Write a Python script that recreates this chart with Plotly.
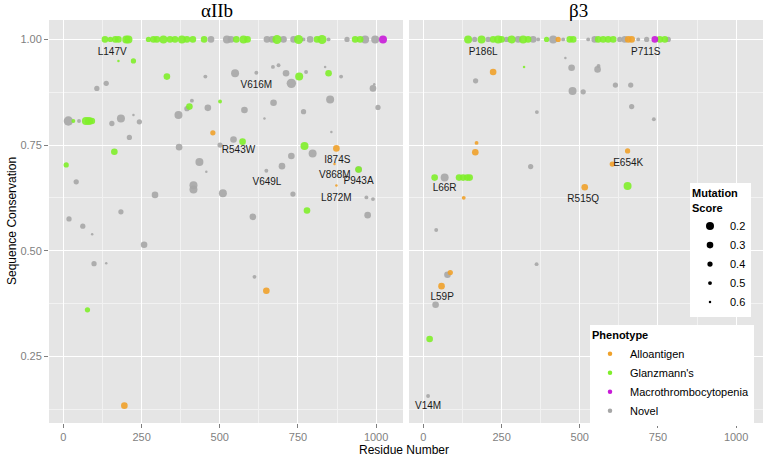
import plotly.graph_objects as go

# ---------------- data ----------------
# alpha IIb panel: residue, conservation, mutation score, phenotype (A/G/M/N)
a_res = [133,150,166,176,201,208,272,288,299,320,341,357,379,395,414,450,472,523,536,553,
         576,589,651,667,683,704,736,752,768,789,811,827,848,907,933,949,965,997,1022,
         176,224,331,107,137,16,32,50,72,82,91,155,184,224,243,211,163,9,41,18,62,92,98,137,
         258,77,195,611,649,184,370,368,395,403,411,435,457,416,416,293,454,462,501,478,501,
         544,573,510,549,579,617,606,643,649,672,670,688,712,729,754,776,699,729,734,768,771,
         797,779,837,848,888,853,857,873,867,873,944,944,969,990,973,990,994,1006]
a_con = [1.0]*39 + [
         0.949,0.949,0.912,0.884,0.896,0.807,0.807,0.807,0.807,0.807,0.807,0.801,0.813,0.821,
         0.805,0.768,0.734,0.703,0.663,0.575,0.558,0.539,0.469,0.470,0.514,0.360,0.133,0.438,
         0.405,0.592,0.745,0.821,0.836,0.841,0.855,0.710,0.687,0.655,0.645,0.632,0.912,0.838,
         0.853,0.779,0.750,0.763,0.758,0.636,0.920,0.833,0.921,0.580,0.813,0.689,0.850,0.935,
         0.939,0.920,0.896,0.912,0.923,0.700,0.724,0.634,0.829,0.748,0.730,0.595,0.935,0.920,
         0.912,0.858,0.781,0.742,0.705,0.654,0.692,0.692,0.626,0.622,0.584,0.884,0.894,0.839]
a_score = [0.3,0.4,0.3,0.3,0.2,0.2,0.4,0.3,0.3,0.2,0.3,0.3,0.2,0.3,0.3,0.3,0.3,0.2,0.3,0.3,
           0.2,0.3,0.3,0.3,0.12,0.3,0.3,0.12,0.5,0.3,0.3,0.12,0.5,0.4,0.3,0.3,0.2,0.2,0.2,
           0.6,0.4,0.3,0.4,0.4,0.1,0.5,0.5,0.2,0.2,0.3,0.4,0.2,0.6,0.4,0.4,0.3,0.4,0.4,0.4,0.4,
           0.6,0.4,0.6,0.3,0.4,0.3,0.5,0.3,0.4,0.3,0.2,0.4,0.3,0.5,0.2,0.6,0.2,0.2,0.3,0.5,0.3,
           0.5,0.4,0.4,0.3,0.3,0.2,0.2,0.3,0.5,0.3,0.6,0.5,0.3,0.5,0.5,0.3,0.1,0.2,0.5,0.3,0.3,
           0.4,0.4,0.2,0.2,0.3,0.6,0.3,0.5,0.2,0.6,0.3,0.6,0.6,0.3,0.3,0.5,0.5,0.3,0.3,0.6,0.4]
a_phen = list("GGGGGGGGGGGGGGGGNNNGGGNNGNNGNNGGNNGGNNM") + list(
    "GGGNNNGNGGGNNNNNGGNNNNNNNGAN" "ANNNNGNNNNNNNNGAN" "NGNNNNNNNNNNNNGNNNNNGNGNGNNNAAANGNNNNNN")

# beta 3 panel
b_res = [143,164,186,207,223,239,250,266,282,303,319,335,351,367,394,415,431,447,468,479,
         527,548,559,575,591,607,628,644,655,666,687,714,740,756,772,783,
         322,223,167,454,474,557,560,477,511,614,663,666,363,737,170,166,653,604,343,
         36,68,114,127,140,148,129,516,653,41,362,86,77,58,39,20,15]
b_con = [1.0]*36 + [
         0.935,0.923,0.902,0.956,0.933,0.929,0.937,0.878,0.876,0.892,0.892,0.841,0.828,0.811,
         0.755,0.733,0.736,0.705,0.699,0.673,0.673,0.673,0.673,0.673,0.673,0.625,0.650,0.653,
         0.549,0.468,0.448,0.443,0.416,0.372,0.291,0.156]
b_score = [0.2,0.4,0.2,0.4,0.3,0.2,0.3,0.4,0.2,0.3,0.2,0.3,0.3,0.5,0.4,0.2,0.4,0.5,0.3,0.3,
           0.5,0.3,0.3,0.3,0.3,0.3,0.4,0.3,0.3,0.3,0.5,0.4,0.3,0.3,0.3,0.4,
           0.6,0.3,0.4,0.6,0.3,0.3,0.5,0.2,0.4,0.4,0.4,0.4,0.5,0.5,0.5,0.3,0.4,0.4,0.4,
           0.3,0.2,0.3,0.3,0.3,0.3,0.5,0.3,0.2,0.5,0.5,0.4,0.3,0.3,0.3,0.3,0.5]
b_phen = list("GNGNGGGNGNGGNNGNANGGNNGGGGNNAANNMGGN") + list(
    "GANNNNNNNNNNNNAAAAN" "GNGGGGAAGNNANANGN")

# mutation labels
a_lab = ["L147V","V616M","R543W","V649L","I874S","V868M","P943A","L872M"]
a_lab_x = [156,617,560,651,876,868,944,873]
a_lab_y = [0.968,0.892,0.737,0.661,0.713,0.679,0.663,0.624]
b_lab = ["P186L","P711S","L66R","R515Q","E654K","L59P","V14M"]
b_lab_x = [191,711,68,511,655,60,15]
b_lab_y = [0.968,0.968,0.646,0.622,0.707,0.390,0.130]

phenotypes = ["Alloantigen","Glanzmann's","Macrothrombocytopenia","Novel"]
codes = ["A","G","M","N"]
legend_scores = [0.2,0.3,0.4,0.5,0.6]

# ---------------- styling ----------------
colors = {"A":"#EFA12A","G":"#7FEE2A","M":"#C81AD8","N":"#A6A6A6"}
FONT = "Liberation Sans, Arial, Helvetica, sans-serif"

def size_of(s):
    return 2.5 + (0.6 - s) * 13.75

fig = go.Figure()
draw_order = ["N","G","A","M"]
for xa, ya, res, con, sc, ph in [("x","y",a_res,a_con,a_score,a_phen),
                                  ("x2","y2",b_res,b_con,b_score,b_phen)]:
    for c in draw_order:
        idx = [i for i,p in enumerate(ph) if p == c]
        if not idx:
            continue
        fig.add_trace(go.Scatter(
            x=[res[i] for i in idx], y=[con[i] for i in idx], mode="markers",
            xaxis=xa, yaxis=ya, showlegend=False, hoverinfo="skip",
            marker=dict(color=colors[c], size=[size_of(sc[i]) for i in idx],
                        opacity=0.9, line=dict(width=0))))

fig.add_trace(go.Scatter(x=a_lab_x, y=a_lab_y, text=a_lab, mode="text", xaxis="x", yaxis="y",
                         showlegend=False, hoverinfo="skip",
                         textfont=dict(family=FONT, size=10, color="#1a1a1a")))
fig.add_trace(go.Scatter(x=b_lab_x, y=b_lab_y, text=b_lab, mode="text", xaxis="x2", yaxis="y2",
                         showlegend=False, hoverinfo="skip",
                         textfont=dict(family=FONT, size=10, color="#1a1a1a")))

# size legend
for s in legend_scores:
    fig.add_trace(go.Scatter(x=[None], y=[None], mode="markers", name=f"{s:.1f}",
                             legend="legend2", xaxis="x2", yaxis="y2",
                             marker=dict(color="black", size=size_of(s))))
# phenotype legend
for name, c in zip(phenotypes, codes):
    fig.add_trace(go.Scatter(x=[None], y=[None], mode="markers", name=name,
                             legend="legend", xaxis="x2", yaxis="y2",
                             marker=dict(color=colors[c], size=4.5)))

W, H = 765, 460
L1, R1, L2, R2 = 49, 403, 409, 763
TOP, BOT = 20, 423
xr = [-46, 1086]
yr = [0.092, 1.046]

def xaxis(l, r, show):
    return dict(domain=[l/W, r/W], range=xr, tick0=0, dtick=250, showgrid=True,
                gridcolor="white", gridwidth=1.3, zeroline=False, showline=False,
                ticks="outside", ticklen=4, tickcolor="#7f7f7f",
                tickfont=dict(family=FONT, size=11, color="#7f7f7f"),
                minor=dict(dtick=125, tick0=0, showgrid=True, gridcolor="#F2F2F2",
                           gridwidth=0.6, ticks=""),
                anchor="y" if show else "y2")

ydom = [1 - BOT/H, 1 - TOP/H]
fig.update_layout(
    width=W, height=H, margin=dict(l=0, r=0, t=0, b=0),
    paper_bgcolor="white", plot_bgcolor="#E5E5E5",
    xaxis=xaxis(L1, R1, True),
    xaxis2=xaxis(L2, R2, False),
    yaxis=dict(domain=ydom, range=yr, tick0=0, dtick=0.25, tickformat=".2f",
               showgrid=True, gridcolor="white", gridwidth=1.3, zeroline=False,
               ticks="outside", ticklen=4, tickcolor="#7f7f7f", anchor="x",
               tickfont=dict(family=FONT, size=11, color="#7f7f7f"),
               minor=dict(dtick=0.125, tick0=0, showgrid=True, gridcolor="#F2F2F2",
                          gridwidth=0.6, ticks="")),
    yaxis2=dict(domain=ydom, range=yr, tick0=0, dtick=0.25, showticklabels=False,
                showgrid=True, gridcolor="white", gridwidth=1.3, zeroline=False,
                ticks="", anchor="x2", matches="y",
                minor=dict(dtick=0.125, tick0=0, showgrid=True, gridcolor="#F2F2F2",
                           gridwidth=0.6, ticks="")),
    legend=dict(title=dict(text="<b>Phenotype</b>", font=dict(family=FONT, size=11, color="black")),
                x=754/W, xanchor="right", y=1 - 325/H, yanchor="top",
                bgcolor="white", font=dict(family=FONT, size=11, color="black"),
                itemwidth=30, tracegroupgap=0, itemsizing="trace"),
    legend2=dict(title=dict(text="<b>Mutation<br>Score</b>", font=dict(family=FONT, size=11, color="black")),
                 x=751/W, xanchor="right", y=1 - 183/H, yanchor="top",
                 bgcolor="white", font=dict(family=FONT, size=11, color="black"),
                 itemwidth=30, tracegroupgap=0, itemsizing="trace"),
    annotations=[
        dict(text="αIIb", x=217/W, y=1 - 11/H, xref="paper", yref="paper", showarrow=False,
             xanchor="center", yanchor="middle",
             font=dict(family="Liberation Serif, Times New Roman, serif", size=19, color="black")),
        dict(text="β3", x=578/W, y=1 - 11/H, xref="paper", yref="paper", showarrow=False,
             xanchor="center", yanchor="middle",
             font=dict(family="Liberation Serif, Times New Roman, serif", size=19, color="black")),
        dict(text="Residue Number", x=404/W, y=1 - 450/H, xref="paper", yref="paper",
             showarrow=False, xanchor="center", yanchor="middle",
             font=dict(family=FONT, size=12, color="black")),
        dict(text="Sequence Conservation", x=12/W, y=1 - 221/H, xref="paper", yref="paper",
             showarrow=False, textangle=-90, xanchor="center", yanchor="middle",
             font=dict(family=FONT, size=12, color="black")),
    ],
)

fig.write_html("out.html", config={"displayModeBar": False},
               post_script="document.body.style.margin='0px';document.body.style.overflow='hidden';")
